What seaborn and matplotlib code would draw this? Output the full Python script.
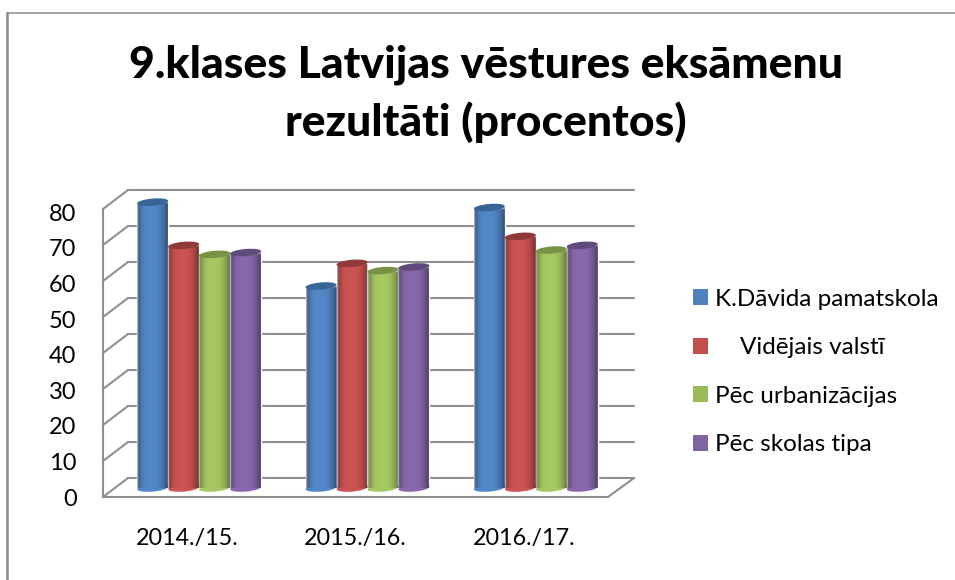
import numpy as np
import pandas as pd
import matplotlib
matplotlib.use('Agg')
import matplotlib.pyplot as plt
import seaborn as sns
from matplotlib.lines import Line2D
from matplotlib.patches import PathPatch
from matplotlib.path import Path
from matplotlib.transforms import Affine2D

years = ['2014./15.', '2015./16.', '2016./17.']
series = ['K.Dāvida pamatskola', '    Vidējais valstī', 'Pēc urbanizācijas', 'Pēc skolas tipa']
school = [79.4, 56.1, 77.9]
country = [67.4, 62.4, 69.9]
urban = [64.9, 60.4, 66.1]
school_type = [65.4, 61.4, 67.4]
colors = ['#4F81BD', '#C0504D', '#9BBB59', '#8064A2']
body_colors = ['#5287c7', '#cb5351', '#a6c862', '#8868ac']
top_colors = ['#386595', '#8f3a38', '#779244', '#5f4a7c']

W, H = 955, 580
sns.set_theme(style='white')
plt.rcParams['font.family'] = ['Lato', 'DejaVu Sans']

df = pd.DataFrame({'year': years * 4,
                   'series': np.repeat(series, 3),
                   'value': school + country + urban + school_type})


def box(x0, ytop, x1, ybottom):
    return [x0 / W, 1 - ybottom / H, (x1 - x0) / W, (ybottom - ytop) / H]


fig = plt.figure(figsize=(W / 100, H / 100), dpi=100)
fig.patch.set_facecolor('white')

# back wall, front plane and the bars each get their own axes
ax_back = fig.add_axes(box(128, 190, 634, 478))
ax_front = fig.add_axes(box(103, 209, 608, 497))
ax = fig.add_axes(box(115, 200, 620, 488))

grid_color = '#8f8f8f'
ax_back.set_ylim(0, 80)
ax_back.set_yticks(range(0, 90, 10))
ax_back.set_xticks([])
ax_back.tick_params(left=False, labelleft=False)
ax_back.grid(axis='y', color=grid_color, lw=1.5)
for line in ax_back.get_ygridlines():
    line.set_clip_on(False)
sns.despine(ax=ax_back, left=True, bottom=True)

ax_front.patch.set_alpha(0)
# labels sit a little tighter than the wall gridlines
ax_front.set_ylim(0, 80.9)
ax_front.set_xlim(-0.5, 2.5)
ax_front.set_yticks(range(0, 90, 10))
ax_front.set_xticks(range(3))
ax_front.set_xticklabels(years)
ax_front.tick_params(axis='y', length=0, pad=19, labelsize=17, colors='black')
ax_front.tick_params(axis='x', length=0, pad=22, labelsize=16.8, colors='black')
sns.despine(ax=ax_front)
for side in ['left', 'bottom']:
    ax_front.spines[side].set_color(grid_color)
    ax_front.spines[side].set_linewidth(1.5)

sns.barplot(data=df, x='year', y='value', hue='series', palette=body_colors,
            width=0.736, gap=0, saturation=1, ax=ax, zorder=3, legend=False)
ax.set_xlim(-0.5, 2.5)
ax.set_ylim(0, 80)
ax.axis('off')

# cylinder look on top of the flat seaborn bars
shade = np.array([0.38, 0.16, 0.03, 0, 0, 0, 0.03, 0.1, 0.22, 0.42])
xs = np.linspace(0, 1, 80)
shade = np.interp(xs, np.linspace(0, 1, len(shade)), shade)
overlay = np.zeros((1, 80, 4))
overlay[0, :, 3] = shade
bars = [p for p in ax.patches if p.get_height() > 0]
for i, bar in enumerate(bars):
    x0, w, h = bar.get_x(), bar.get_width(), bar.get_height()
    cx = x0 + w / 2
    ell = Path.unit_circle()
    # sheared circle gives the slightly tilted ellipse of the bar ends
    ell_h = 1.0
    shear = 0.35 * 2 * ell_h / w
    base = Affine2D.from_values(w / 2, shear * w / 2, 0, ell_h, cx, 0)
    top = Affine2D.from_values(w / 2, shear * w / 2, 0, ell_h, cx, h)
    ax.add_patch(PathPatch(base.transform_path(ell), fc=body_colors[i // 3], ec='none',
                           zorder=3, clip_on=False))
    ax.add_patch(PathPatch(top.transform_path(ell), fc=top_colors[i // 3], ec='none',
                           zorder=5, clip_on=False))
    body = Path.make_compound_path(
        Path([(x0, 0), (x0 + w, 0), (x0 + w, h), (x0, h), (x0, 0)],
             [Path.MOVETO, Path.LINETO, Path.LINETO, Path.LINETO, Path.CLOSEPOLY]),
        base.transform_path(ell))
    im = ax.imshow(overlay, extent=(x0, x0 + w, -2, h), aspect='auto', zorder=4)
    im.set_clip_path(PathPatch(body, transform=ax.transData))
    bar.set_clip_on(False)
ax.set_xlim(-0.5, 2.5)
ax.set_ylim(0, 80)

handles = [plt.Rectangle((0, 0), 1, 1, fc=c, ec='none') for c in colors]
fig.legend(handles, series, loc='center left', bbox_to_anchor=(693 / W, 1 - 372 / H),
           frameon=False, fontsize=17.5, handlelength=0.62, handleheight=0.62,
           handletextpad=0.29, labelspacing=1.13, labelcolor='black',
           borderaxespad=0, borderpad=0)

# connecting diagonals of the floor and side wall, and the outer frame
for v in range(0, 90, 10):
    y = 3.6 * v
    fig.add_artist(Line2D([103 / W, 128 / W], [1 - (497 - y) / H, 1 - (478 - y) / H],
                          color=grid_color, lw=1.5))
fig.add_artist(Line2D([608 / W, 634 / W], [1 - 497 / H, 1 - 478 / H], color=grid_color, lw=1.5))
fig.add_artist(Line2D([6.5 / W, 6.5 / W], [0, 1 - 12.5 / H], color='#8a8a8a', lw=1.8))
fig.add_artist(Line2D([6.5 / W, 1], [1 - 12.5 / H, 1 - 12.5 / H], color='#8a8a8a', lw=1.1))

fig.text(486 / W, 1 - 65 / H, '9.klases Latvijas vēstures eksāmenu', ha='center', va='center',
         fontsize=32, fontweight='black', color='black')
fig.text(486 / W, 1 - 122 / H, 'rezultāti (procentos)', ha='center', va='center',
         fontsize=32, fontweight='black', color='black')

fig.savefig('out.png', dpi=100)
